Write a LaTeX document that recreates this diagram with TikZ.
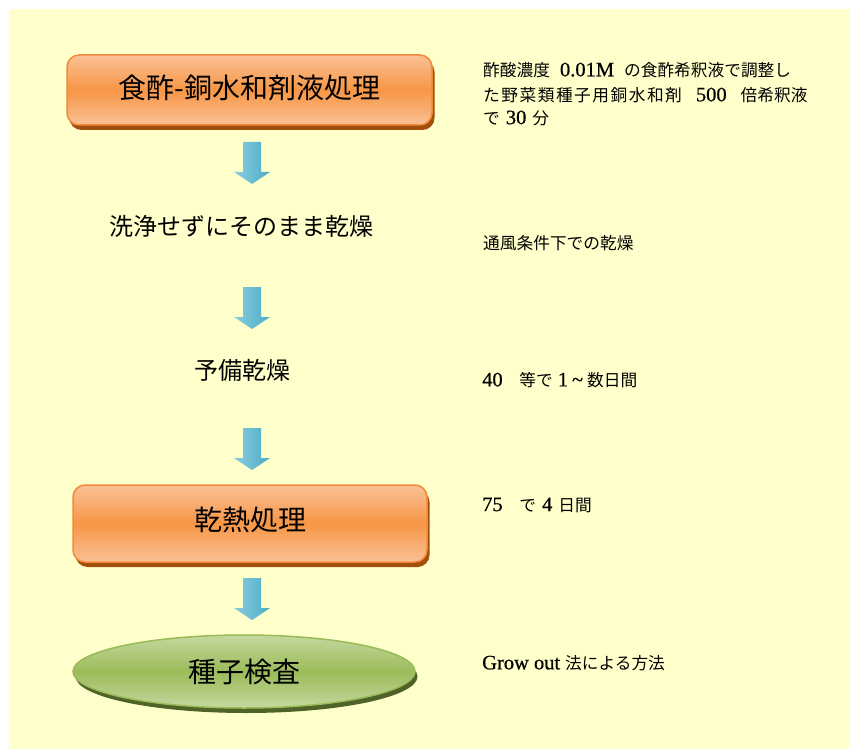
\documentclass[tikz,border=0pt]{standalone}
\usepackage{fontspec}
\setmainfont[FakeBold=0.6]{Liberation Serif}
\newfontfamily\J{Noto Sans CJK JP}
\newfontfamily\Jw[LetterSpace=9]{Noto Sans CJK JP}
\usetikzlibrary{shapes.geometric,shadows,calc}
\definecolor{bg}{HTML}{FFFFCC}
\definecolor{orL}{HTML}{FAC196}
\definecolor{orM}{HTML}{F79646}
\definecolor{orB}{HTML}{F3893A}
\definecolor{orS}{HTML}{A24F0C}
\definecolor{grL}{HTML}{C5D8A0}
\definecolor{grM}{HTML}{9BBB59}
\definecolor{grS}{HTML}{4F6228}
\definecolor{blL}{HTML}{8ACDE0}
\definecolor{blM}{HTML}{4BACC6}
\tikzset{
  obox/.style={rectangle, rounded corners=12pt, draw=orB, line width=1.5pt,
    top color=orL, bottom color=orL, middle color=orM,
    font=\J\fontsize{28}{32}\selectfont,
    drop shadow={shadow xshift=2.5pt, shadow yshift=-5pt, opacity=1, fill=orS}},
  gell/.style={ellipse, draw=grM, line width=1.5pt,
    top color=grL, bottom color=grL, middle color=grM,
    font=\J\fontsize{28}{32}\selectfont,
    drop shadow={shadow xshift=2.5pt, shadow yshift=-5pt, opacity=1, fill=grS}},
  plain/.style={font=\J\fontsize{24}{28}\selectfont},
  note/.style={anchor=west, inner sep=0pt, font=\fontsize{20.5}{22}\selectfont},
  barrow/.style={left color=blL, right color=blM, draw=none}
}
\newcommand{\blockarrow}[1]{%
  \path[barrow] ($(#1)+(-9,0)$) -- ($(#1)+(-9,30)$) -- ($(#1)+(-18,30)$) --
    ($(#1)+(0,42)$) -- ($(#1)+(18,30)$) -- ($(#1)+(9,30)$) -- ($(#1)+(9,0)$) -- cycle;}
\newcommand{\jp}[1]{{\J\fontsize{16.7}{22}\selectfont #1}}
\newcommand{\jpw}[1]{{\Jw\fontsize{16.7}{22}\selectfont #1}}
\newcommand{\gap}[1]{\hspace*{#1pt}}
\begin{document}
\begin{tikzpicture}[x=1pt,y=-1pt]
\useasboundingbox (0,0) rectangle (849,749);
\fill[white] (0,0) rectangle (849,749);
\fill[bg] (9,9) rectangle (849,749);

\node[obox, minimum width=365pt, minimum height=70pt] (b1) at (249.5,90) {\raisebox{7pt}{食酢-銅水和剤液処理}};
\node[plain] (t2) at (241.5,226) {洗浄せずにそのまま乾燥};
\node[plain] (t3) at (242,370) {予備乾燥};
\node[obox, minimum width=354pt, minimum height=77pt] (b2) at (250,523.5) {\raisebox{9pt}{乾熱処理}};
\node[gell, minimum width=342pt, minimum height=73pt] (e1) at (244,671.5) {種子検査};

\coordinate (a1) at (252,142);
\coordinate (a2) at (252,287);
\coordinate (a3) at (252,428);
\coordinate (a4) at (252,578);
\blockarrow{a1}
\blockarrow{a2}
\blockarrow{a3}
\blockarrow{a4}

\node[note] (n1) at (483,70) {\jp{酢酸濃度}\gap{10}0.01M\gap{10}\jp{の食酢希釈液で調整し}};
\node[note] (n2) at (483,95) {\jpw{た野菜類種子用銅水和剤}\gap{14}500\gap{14}\jp{倍希釈液}};
\node[note] (n3) at (483,118) {\jp{で}\gap{6}30\gap{6}\jp{分}};
\node[note] (n4) at (483,243) {\jp{通風条件下での乾燥}};
\node[note] (n5) at (482,380) {40\jp{　等で}\gap{5}1\gap{4}\textasciitilde\gap{4}\jp{数日間}};
\node[note] (n6) at (482,505) {75\jp{　で}\gap{6}4\gap{6}\jp{日間}};
\node[note] (n7) at (482,663) {Grow out\gap{5}\jp{法による方法}};
\end{tikzpicture}
\end{document}
